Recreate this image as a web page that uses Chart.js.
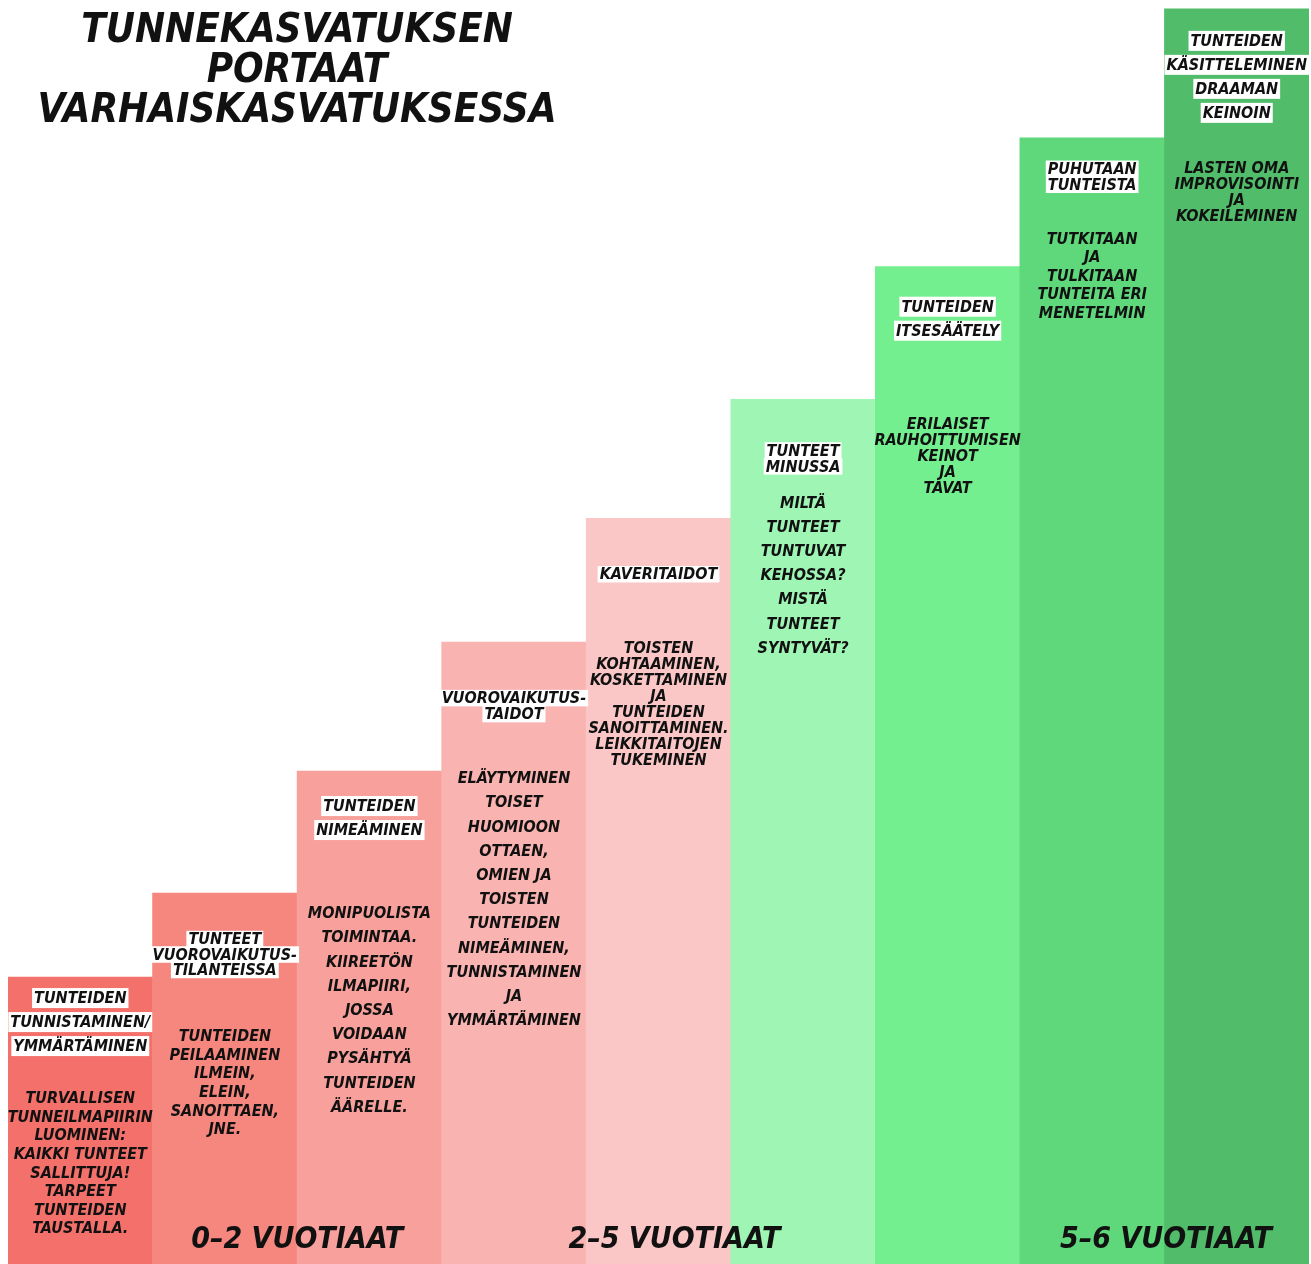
<!DOCTYPE html>
<html lang="fi">

<head>
  <meta charset="UTF-8" />
  <title>Tunnekasvatuksen portaat</title>
  <script src="https://cdn.jsdelivr.net/npm/chart.js"></script>
  <style>
    body {
      margin: 0;
      background: #fff;
    }

    #wrap {
      width: 1311px;
      height: 1264px;
    }
  </style>
</head>

<body>
  <div id="wrap"><canvas id="stairs" width="1311" height="1264"></canvas></div>

  <script>
    // data (step height as % of the full height)
    const steps = ["1", "2", "3", "4", "5", "6", "7", "8", "9"];
    const heights = [22.7, 29.35, 39.0, 49.2, 59.0, 68.4, 78.9, 89.1, 99.3];

    const headings = [
      ["TUNTEIDEN", "TUNNISTAMINEN/", "YMMÄRTÄMINEN"],
      ["TUNTEET", "VUOROVAIKUTUS-", "TILANTEISSA"],
      ["TUNTEIDEN", "NIMEÄMINEN"],
      ["VUOROVAIKUTUS-", "TAIDOT"],
      ["KAVERITAIDOT"],
      ["TUNTEET", "MINUSSA"],
      ["TUNTEIDEN", "ITSESÄÄTELY"],
      ["PUHUTAAN", "TUNTEISTA"],
      ["TUNTEIDEN", "KÄSITTELEMINEN", "DRAAMAN", "KEINOIN"],
    ];

    const bodies = [
      ["TURVALLISEN", "TUNNEILMAPIIRIN", "LUOMINEN:", "KAIKKI TUNTEET", "SALLITTUJA!", "TARPEET", "TUNTEIDEN", "TAUSTALLA."],
      ["TUNTEIDEN", "PEILAAMINEN", "ILMEIN,", "ELEIN,", "SANOITTAEN,", "JNE."],
      ["MONIPUOLISTA", "TOIMINTAA.", "KIIREETÖN", "ILMAPIIRI,", "JOSSA", "VOIDAAN", "PYSÄHTYÄ", "TUNTEIDEN", "ÄÄRELLE."],
      ["ELÄYTYMINEN", "TOISET", "HUOMIOON", "OTTAEN,", "OMIEN JA", "TOISTEN", "TUNTEIDEN", "NIMEÄMINEN,", "TUNNISTAMINEN", "JA", "YMMÄRTÄMINEN"],
      ["TOISTEN", "KOHTAAMINEN,", "KOSKETTAMINEN", "JA", "TUNTEIDEN", "SANOITTAMINEN.", "LEIKKITAITOJEN", "TUKEMINEN"],
      ["MILTÄ", "TUNTEET", "TUNTUVAT", "KEHOSSA?", "MISTÄ", "TUNTEET", "SYNTYVÄT?"],
      ["ERILAISET", "RAUHOITTUMISEN", "KEINOT", "JA", "TAVAT"],
      ["TUTKITAAN", "JA", "TULKITAAN", "TUNTEITA ERI", "MENETELMIN"],
      ["LASTEN OMA", "IMPROVISOINTI", "JA", "KOKEILEMINEN"],
    ];

    const titleLines = ["TUNNEKASVATUKSEN", "PORTAAT", "VARHAISKASVATUKSESSA"];
    const ageGroups = ["0–2 VUOTIAAT", "2–5 VUOTIAAT", "5–6 VUOTIAAT"];

    // layout: where text sits relative to the top of each step
    const ageAnchor = [1.5, 4.11, 7.51];
    const headTop = [21, 46, 35, 56, 56, 51, 40, 31, 32];
    const headGap = [24, 15.5, 24, 16, 16, 16, 24, 16, 24];
    const bodyTop = [122, 144, 143, 137, 131, 104, 158, 102, 160];
    const bodyGap = [18.6, 18.6, 24.2, 24.2, 16, 24.2, 16, 18.4, 16];

    const colors = ["#f4706a", "#f6877f", "#f8a19c", "#f9b4b1", "#fbc7c6",
      "#9ff5b4", "#74ef90", "#5fd77b", "#51bd6a"];

    const FONT = "'DejaVu Sans Condensed', 'Liberation Sans Narrow', 'DejaVu Sans', sans-serif";

    const textPlugin = {
      id: "stairText",
      afterDatasetsDraw(chart) {
        const ctx = chart.ctx;
        const meta = chart.getDatasetMeta(0);
        ctx.save();
        ctx.textAlign = "center";
        ctx.textBaseline = "middle";
        ctx.fillStyle = "#111";

        // title
        ctx.font = "italic bold 40px " + FONT;
        titleLines.forEach((t, i) => ctx.fillText(t, 297, 32 + i * 40));

        meta.data.forEach((bar, i) => {
          const x = bar.x;
          const top = bar.y;

          // headings with white boxes
          ctx.font = "italic bold 16px " + FONT;
          headings[i].forEach((t, j) => {
            const y = top + headTop[i] + j * headGap[i];
            const w = ctx.measureText(t).width;
            const h = headGap[i] > 20 ? 20 : 16.5;
            ctx.fillStyle = "#fff";
            ctx.fillRect(x - w / 2 - 2, y - h / 2, w + 4, h);
            ctx.fillStyle = "#111";
            ctx.fillText(t, x, y + 1);
          });

          // body text
          ctx.font = "italic bold 16px " + FONT;
          bodies[i].forEach((t, j) => {
            ctx.fillText(t, x, top + bodyTop[i] + j * bodyGap[i]);
          });
        });

        // age groups along the bottom
        const x0 = meta.data[0].x;
        const step = meta.data[1].x - meta.data[0].x;
        ctx.font = "italic bold 30px " + FONT;
        ageGroups.forEach((t, i) => {
          ctx.fillText(t, x0 + ageAnchor[i] * step, 1240);
        });
        ctx.restore();
      },
    };

    new Chart(document.getElementById("stairs"), {
      type: "bar",
      data: {
        labels: steps,
        datasets: [{
          data: heights,
          backgroundColor: colors,
          borderWidth: 0,
          categoryPercentage: 1,
          barPercentage: 1,
        }],
      },
      options: {
        responsive: false,
        animation: false,
        events: [],
        layout: { padding: { left: 8, right: 2, top: 0, bottom: 0 } },
        plugins: { legend: { display: false }, tooltip: { enabled: false } },
        scales: {
          x: { display: false },
          y: { display: false, min: 0, max: 100 },
        },
      },
      plugins: [textPlugin],
    });
  </script>
</body>

</html>
